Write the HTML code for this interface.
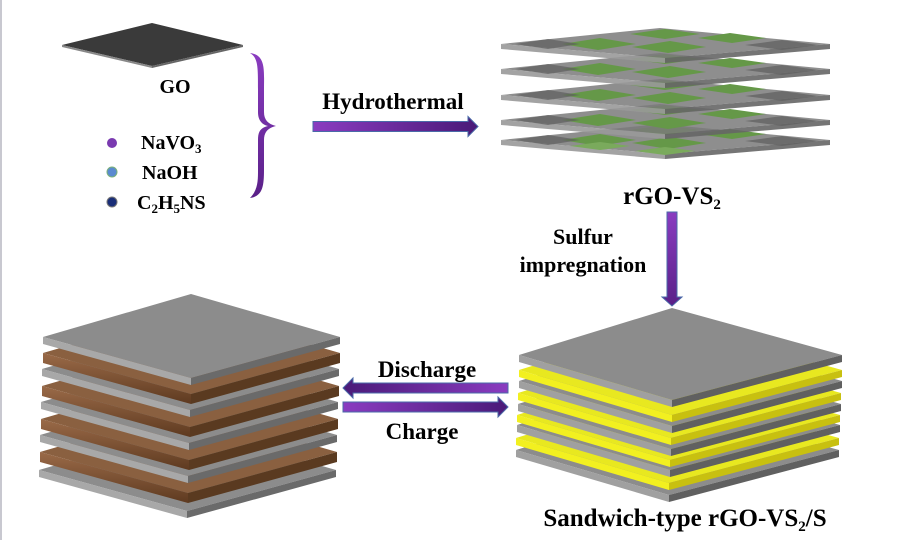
<!DOCTYPE html>
<html><head><meta charset="utf-8"><style>
html,body{margin:0;padding:0;background:#fff;}
svg{display:block;}
text{font-family:"Liberation Serif",serif;font-weight:bold;fill:#000;}
</style></head><body>
<svg width="921" height="540" viewBox="0 0 921 540" xmlns="http://www.w3.org/2000/svg">
<defs>
<linearGradient id="pv" x1="0" y1="0" x2="0" y2="1"><stop offset="0" stop-color="#8a3cc0"/><stop offset="1" stop-color="#5a2088"/></linearGradient>
<linearGradient id="ph" x1="0" y1="0" x2="1" y2="0"><stop offset="0" stop-color="#8a3cc0"/><stop offset="1" stop-color="#4a1a78"/></linearGradient>
<linearGradient id="wood" x1="0" y1="0" x2="0" y2="1"><stop offset="0" stop-color="#9a6a48"/><stop offset="1" stop-color="#5e3a20"/></linearGradient>
<g id="lg"><polygon points="43,0 191,-43 340,0 191,41" fill="#8c8c8c"/><polygon points="43,0 191,41 191,48 43,7" fill="#a8a8a8"/><polygon points="191,41 340,0 340,7 191,48" fill="#6a6a6a"/></g>
<g id="lb"><polygon points="43,0 191,-43 340,0 191,41" fill="#8a6040"/><polygon points="43,0 191,41 191,51 43,10" fill="url(#wood)"/><polygon points="191,41 340,0 340,10 191,51" fill="#5a3a20"/></g>
<g id="rg"><polygon points="519,0 672,-47 842,0 672,45" fill="#8c8c8c"/><polygon points="519,0 672,45 672,52 519,7" fill="#a0a0a0"/><polygon points="672,45 842,0 842,7 672,52" fill="#606060"/></g>
<g id="ry"><polygon points="519,0 672,-47 842,0 672,45" fill="#e8e820"/><polygon points="519,0 672,45 672,52 519,7" fill="#f2f020"/><polygon points="672,45 842,0 842,7 672,52" fill="#c8c010"/></g>
<g id="sl"><polygon points="501,0 660,-16 830,0 665,14" fill="#7a7a7a" opacity="0.85"/><polygon points="501,0 665,14 665,19 501,5" fill="#999" opacity="0.9"/><polygon points="665,14 830,0 830,5 665,19" fill="#666" opacity="0.9"/>
<polygon points="562,0 600,-6 636,0 598,6" fill="#659848"/><polygon points="630,-10 665,-15 700,-10 665,-5" fill="#659848"/><polygon points="632,3 670,-3 706,3 668,9" fill="#659848"/><polygon points="698,-6 730,-11 766,-6 732,-1" fill="#659848"/><polygon points="515,0 548,-5 580,0 548,5" fill="#5e5e5e" opacity="0.7"/><polygon points="745,1 782,-4 818,1 782,6" fill="#5e5e5e" opacity="0.7"/></g>
<g id="arr"><polygon points="0,-5 -155,-5 -155,5 0,5 0,10 10,0 0,-10" stroke="#4a6aa8" stroke-width="1"/></g>
</defs>
<rect x="0" y="0" width="2" height="540" fill="#c8c8d0"/>

<polygon points="62,45 152,23 243,45 152,66" fill="#3a3a3a"/>
<polygon points="62,45 152,66 152,68 62,47" fill="#888"/>
<polygon points="152,66 243,45 243,47 152,68" fill="#666"/>
<text x="175" y="93" font-size="20" text-anchor="middle">GO</text>
<circle cx="112" cy="143" r="5" fill="#7a3ab0"/>
<circle cx="112" cy="172" r="5" fill="#5a8ad0" stroke="#7ab07a" stroke-width="1"/>
<circle cx="112" cy="202" r="5" fill="#1a2e78" stroke="#777" stroke-width="1"/>
<text x="141" y="149" font-size="20">NaVO<tspan font-size="13" dy="4">3</tspan></text>
<text x="142" y="179" font-size="20">NaOH</text>
<text x="137" y="209" font-size="20">C<tspan font-size="13" dy="4">2</tspan><tspan dy="-4">H</tspan><tspan font-size="13" dy="4">5</tspan><tspan dy="-4">NS</tspan></text>
<path d="M250,53 C266,55 264,70 264,90 L264,112 C264,120 268,124 276,126 C268,128 264,132 264,140 L264,170 C264,188 262,196 250,198 C258,190 258,180 258,170 L258,140 C258,132 260,128 268,126 C260,124 258,118 258,112 L258,90 C258,66 258,58 250,53 Z" fill="url(#pv)"/>

<text x="393" y="109" font-size="23" text-anchor="middle">Hydrothermal</text>
<use href="#arr" transform="translate(468,126.5)" fill="url(#ph)"/>

<use href="#sl" y="140"/><use href="#sl" y="120"/><use href="#sl" y="95"/><use href="#sl" y="69"/><use href="#sl" y="44"/>
<polygon points="635,151 665,147 695,151 665,155" fill="#7aaa5c"/>
<polygon points="570,146 600,142 630,146 600,150" fill="#7aaa5c"/>
<text x="672" y="204" font-size="25" text-anchor="middle">rGO-VS<tspan font-size="15" dy="5">2</tspan></text>

<polygon points="667,212 677,212 677,297 682,297 672,306 662,297 667,297" fill="url(#pv)" stroke="#4a6aa8" stroke-width="1"/>
<text x="583" y="244" font-size="22" text-anchor="middle">Sulfur</text>
<text x="583" y="272" font-size="22" text-anchor="middle">impregnation</text>

<use href="#lg" transform="translate(-4,470)"/>
<use href="#lb" transform="translate(-3,452)"/>
<use href="#lg" transform="translate(-3,435)"/>
<use href="#lb" transform="translate(-2,419)"/>
<use href="#lg" transform="translate(-2,402)"/>
<use href="#lb" transform="translate(-1,386)"/>
<use href="#lg" transform="translate(-1,369)"/>
<use href="#lb" transform="translate(0,353)"/>
<use href="#lg" transform="translate(0,337)"/>

<text x="427" y="377" font-size="23" text-anchor="middle">Discharge</text>
<use href="#arr" transform="translate(353,388) scale(-1,1)" fill="url(#ph)"/>
<use href="#arr" transform="translate(498,407)" fill="url(#ph)"/>
<text x="422" y="439" font-size="23" text-anchor="middle">Charge</text>

<use href="#rg" transform="translate(-3,450)"/>
<use href="#ry" transform="translate(-3,438)"/>
<use href="#rg" transform="translate(-2,425)"/>
<use href="#ry" transform="translate(-2,415)"/>
<use href="#rg" transform="translate(-1,404)"/>
<use href="#ry" transform="translate(-1,393)"/>
<use href="#rg" transform="translate(0,381)"/>
<use href="#ry" transform="translate(0,370)"/>
<use href="#rg" transform="translate(0,355)"/>
<text x="685" y="526" font-size="25" text-anchor="middle">Sandwich-type rGO-VS<tspan font-size="15" dy="5">2</tspan><tspan dy="-5">/S</tspan></text>
</svg>
</body></html>
